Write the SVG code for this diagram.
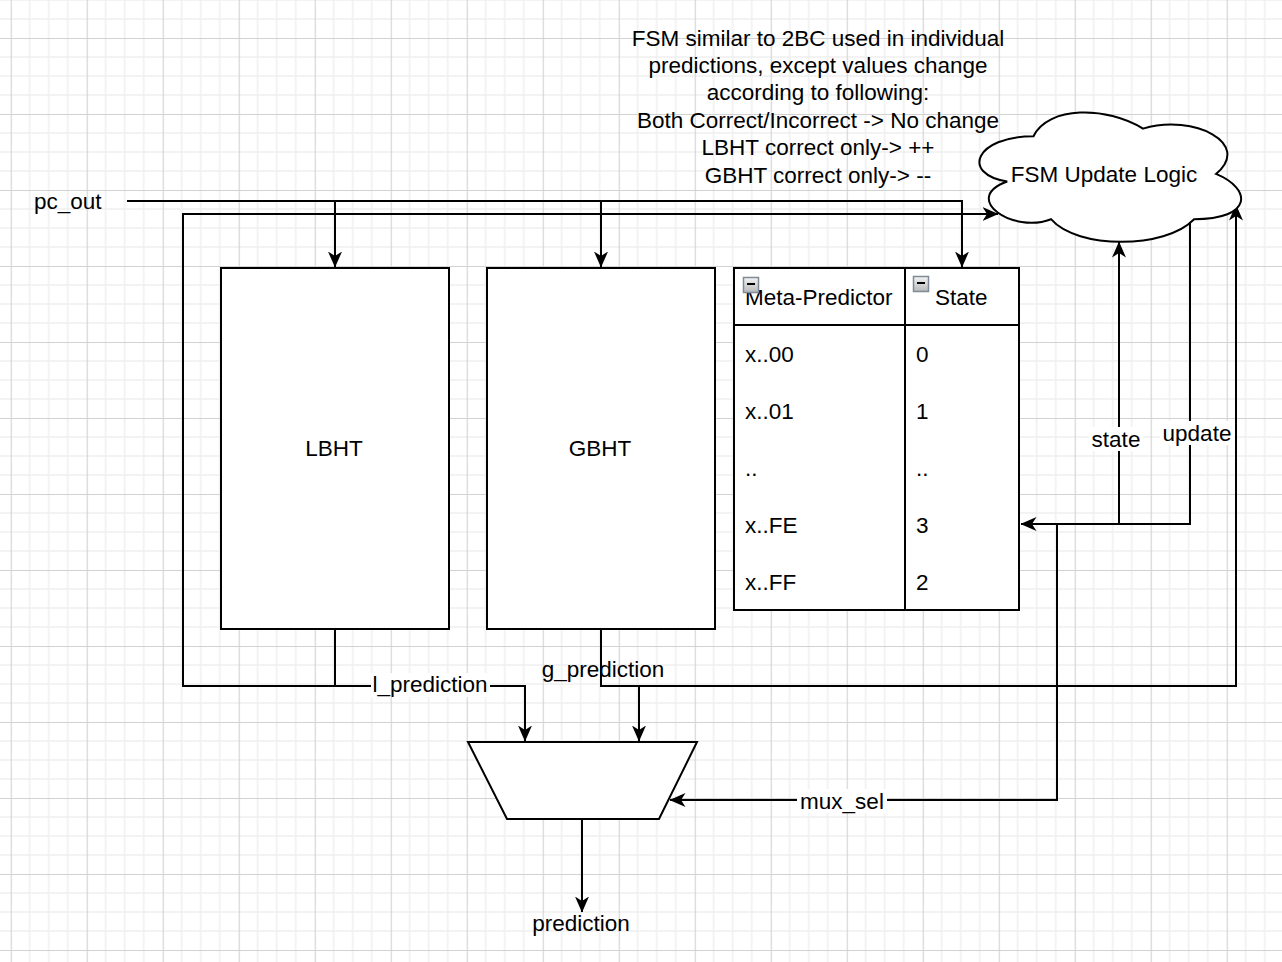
<svg xmlns="http://www.w3.org/2000/svg" width="1282" height="962" viewBox="0 0 1282 962">
<defs>
<pattern id="grid" x="10.7" y="38" width="76" height="76" patternUnits="userSpaceOnUse">
<path d="M19,0 V76 M38,0 V76 M57,0 V76 M0,19 H76 M0,38 H76 M0,57 H76" stroke="#efefef" stroke-width="1.5" fill="none"/>
<path d="M0.5,0 V76 M0,0.5 H76" stroke="#d2d2d2" stroke-width="1.2" fill="none"/>
</pattern>
<marker id="arr" viewBox="0 0 16 14" refX="15.5" refY="7" markerWidth="16" markerHeight="14" markerUnits="userSpaceOnUse" orient="auto">
<path d="M0,0 L16,7 L0,14 L4.5,7 Z" fill="#000"/>
</marker>
<linearGradient id="btn" x1="0" y1="0" x2="0" y2="1">
<stop offset="0" stop-color="#f4f4f4"/>
<stop offset="1" stop-color="#b8b8b8"/>
</linearGradient>
</defs>
<style>
text{font-family:"Liberation Sans",Arial,sans-serif;font-size:22.5px;fill:#000}
.c{text-anchor:middle}
.box{fill:#fff;stroke:#000;stroke-width:2}
.wire{fill:none;stroke:#000;stroke-width:2}
.lbl{fill:#fff}
</style>
<rect width="1282" height="962" fill="#fff"/>
<rect width="1282" height="962" fill="url(#grid)"/>

<g id="connectors">
<path class="wire" d="M127,201 H962 V267" marker-end="url(#arr)"/>
<path class="wire" d="M335,201 V267" marker-end="url(#arr)"/>
<path class="wire" d="M601,201 V267" marker-end="url(#arr)"/>
<path class="wire" d="M335,629 V686 H183 V214 H998" marker-end="url(#arr)"/>
<path class="wire" d="M335,686 H525 V741" marker-end="url(#arr)"/>
<path class="wire" d="M601,629 V686 H639 V741" marker-end="url(#arr)"/>
<path class="wire" d="M639,686 H1236 V205" marker-end="url(#arr)"/>
<path class="wire" d="M1190,222 V524 H1021" marker-end="url(#arr)"/>
<path class="wire" d="M1119,524 V242" marker-end="url(#arr)"/>
<path class="wire" d="M1057,524 V800 H670" marker-end="url(#arr)"/>
<path class="wire" d="M582,819 V912" marker-end="url(#arr)"/>
<rect class="lbl" x="371" y="673" width="119" height="24"/>
<text x="430" y="692" class="c">l_prediction</text>
<text x="603" y="677" class="c">g_prediction</text>
<rect class="lbl" x="797" y="789" width="90" height="24"/>
<text x="842" y="809" class="c">mux_sel</text>
<rect class="lbl" x="1089" y="427" width="54" height="24"/>
<text x="1116" y="447" class="c">state</text>
<rect class="lbl" x="1160" y="421" width="74" height="24"/>
<text x="1197" y="441" class="c">update</text>
</g>

<g id="pc_out"><text x="34" y="209">pc_out</text></g>

<g id="note">
<text x="818" y="46" class="c">FSM similar to 2BC used in individual</text>
<text x="818" y="73" class="c">predictions, except values change</text>
<text x="818" y="100" class="c">according to following:</text>
<text x="818" y="128" class="c">Both Correct/Incorrect -&gt; No change</text>
<text x="818" y="155" class="c">LBHT correct only-&gt; ++</text>
<text x="818" y="183" class="c">GBHT correct only-&gt; --</text>
</g>

<g id="fsm">
<path class="box" d="M1033.5,136.2 C975.1,136.2 960.5,174 1007.2,181.5 C960.5,198.1 1013.1,234.3 1051,219.2 C1077.3,249.4 1164.9,249.4 1194.1,219.2 C1252.5,219.2 1252.5,189 1216,173.9 C1252.5,143.7 1194.1,113.5 1143,128.6 C1106.5,106 1048.1,106 1033.5,136.2 Z"/>
<text x="1104" y="182" class="c">FSM Update Logic</text>
</g>

<g id="lbht">
<rect class="box" x="221" y="268" width="228" height="361"/>
<text x="334" y="456" class="c">LBHT</text>
</g>

<g id="gbht">
<rect class="box" x="487" y="268" width="228" height="361"/>
<text x="600" y="456" class="c">GBHT</text>
</g>

<g id="table">
<rect class="box" x="734" y="268" width="285" height="342"/>
<path class="wire" d="M734,325 H1019 M905,268 V610"/>
<text x="745" y="305">Meta-Predictor</text>
<text x="935" y="305">State</text>
<text x="745" y="362">x..00</text>
<text x="916" y="362">0</text>
<text x="745" y="419">x..01</text>
<text x="916" y="419">1</text>
<text x="745" y="476">..</text>
<text x="916" y="476">..</text>
<text x="745" y="533">x..FE</text>
<text x="916" y="533">3</text>
<text x="745" y="590">x..FF</text>
<text x="916" y="590">2</text>
<rect x="743.5" y="277.5" width="15" height="15" fill="url(#btn)" stroke="#808a98" stroke-width="1.5"/>
<path d="M747,284 H755" stroke="#000" stroke-width="2"/>
<rect x="913.5" y="276.5" width="15" height="15" fill="url(#btn)" stroke="#808a98" stroke-width="1.5"/>
<path d="M917,283 H925" stroke="#000" stroke-width="2"/>
</g>

<g id="mux">
<path class="box" d="M468,742 H697 L659,819 H507 Z"/>
</g>

<g id="prediction"><text x="581" y="931" class="c">prediction</text></g>
</svg>
